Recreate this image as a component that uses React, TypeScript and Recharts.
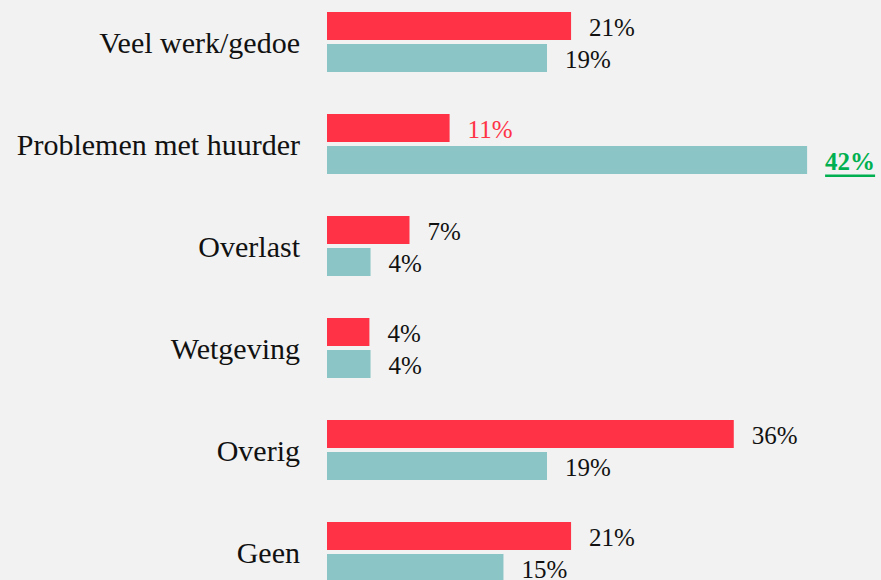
import React from 'react';
import { BarChart, Bar, XAxis, YAxis, LabelList } from 'recharts';

const categories = ['Veel werk/gedoe', 'Problemen met huurder', 'Overlast', 'Wetgeving', 'Overig', 'Geen'];
const seriesRed = [21.3, 10.7, 7.2, 3.7, 35.5, 21.3];
const seriesTeal = [19.2, 41.9, 3.8, 3.8, 19.2, 15.4];

const COLORS = {
  red: '#FF3246',
  teal: '#8BC5C6',
  background: '#F2F2F2',
  text: '#111111',
  redText: '#FF3246',
  greenText: '#00B050',
};

const FONT = '"Liberation Serif", "DejaVu Serif", serif';

const data = categories.map((name, i) => ({
  name,
  red: seriesRed[i],
  teal: seriesTeal[i],
}));

// which value labels are highlighted, per series
const redLabelStyle = (index: number) =>
  index === 1 ? { fill: COLORS.redText, fontWeight: 'normal', underline: false } : null;
const tealLabelStyle = (index: number) =>
  index === 1 ? { fill: COLORS.greenText, fontWeight: 'bold', underline: true } : null;

const makeLabel = (styleFor: (i: number) => any) => (props: any) => {
  const { x = 0, y = 0, width = 0, height = 0, value = 0, index = 0 } = props;
  const s = styleFor(index) || { fill: COLORS.text, fontWeight: 'normal', underline: false };
  return (
    <text
      x={Number(x) + Number(width) + 18}
      y={Number(y) + Number(height) / 2 + 1}
      dominantBaseline="central"
      textAnchor="start"
      fontFamily={FONT}
      fontSize={25}
      fill={s.fill}
      fontWeight={s.fontWeight}
      textDecoration={s.underline ? 'underline' : undefined}
    >
      {`${Math.round(Number(value))}%`}
    </text>
  );
};

const App = () => {
  return (
    <div
      style={{
        position: 'absolute',
        left: 0,
        top: 0,
        width: 881,
        height: 580,
        overflow: 'hidden',
        background: COLORS.background,
      }}
    >
      <div style={{ position: 'absolute', left: 0, top: -9 }}>
        <BarChart
          width={881}
          height={612}
          data={data}
          layout="vertical"
          margin={{ top: 0, right: 4, bottom: 0, left: 0 }}
          barSize={28}
          barGap={4}
        >
          <XAxis type="number" domain={[0, 48]} hide />
          <YAxis
            type="category"
            dataKey="name"
            width={327}
            axisLine={false}
            tickLine={false}
            tickSize={0}
            tickMargin={27}
            interval={0}
            tick={{ fill: COLORS.text, fontSize: 30, fontFamily: FONT }}
          />
          <Bar dataKey="red" fill={COLORS.red} isAnimationActive={false}>
            <LabelList dataKey="red" content={makeLabel(redLabelStyle)} />
          </Bar>
          <Bar dataKey="teal" fill={COLORS.teal} isAnimationActive={false}>
            <LabelList dataKey="teal" content={makeLabel(tealLabelStyle)} />
          </Bar>
        </BarChart>
      </div>
    </div>
  );
};

export default App;
